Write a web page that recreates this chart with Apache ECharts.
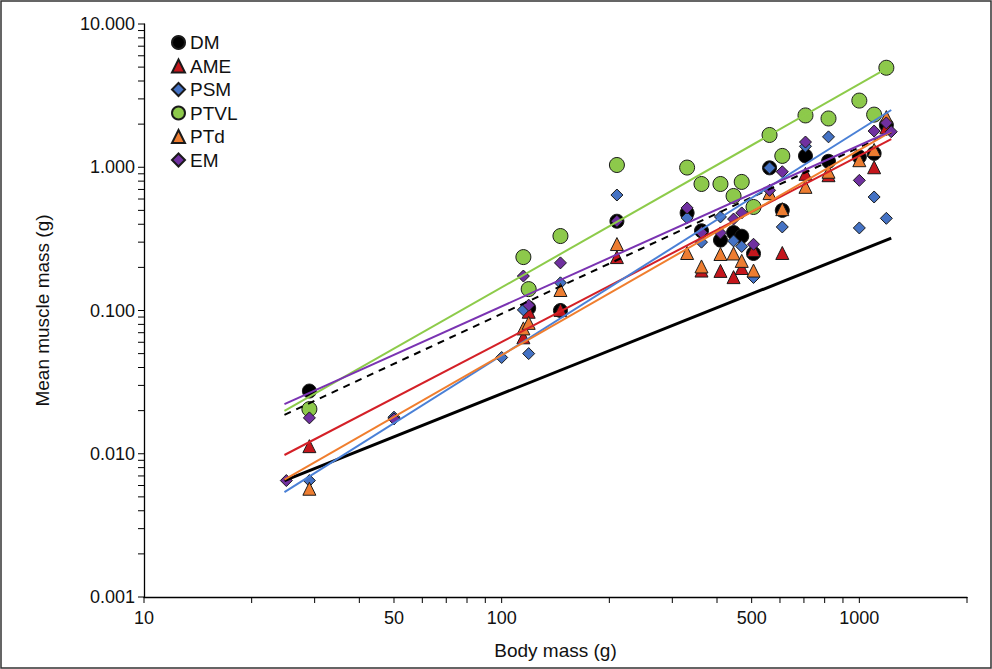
<!DOCTYPE html>
<html>
<head>
<meta charset="utf-8">
<script src="https://cdn.jsdelivr.net/npm/echarts@6/dist/echarts.min.js"></script>
<style>
html,body{margin:0;padding:0;background:#fff;}
#chart{width:992px;height:669px;}
</style>
</head>
<body>
<div id="chart"></div>
<script>
// Body mass of each species column (g)
const bodyMass = [25, 29, 50, 100, 115, 119, 146, 210, 330, 362, 409, 445, 469, 506, 561, 609, 707, 820, 1000, 1100, 1190, 1228];
// Mean muscle mass (g) per muscle, aligned with bodyMass (null = not plotted)
const dmMass   = [null, 0.0274, null, null, null, 0.104, 0.100, 0.42, 0.48, 0.36, 0.31, 0.35, 0.33, 0.25, 0.99, 0.50, 1.20, 1.10, 1.18, 1.25, 1.97, null];
const ameMass  = [null, 0.0113, null, null, 0.065, 0.098, 0.101, 0.236, null, 0.19, 0.189, 0.171, 0.198, 0.264, null, 0.252, 0.90, 0.88, null, 1.0, 1.9, null];
const psmMass  = [null, 0.0065, 0.018, 0.047, 0.101, 0.050, 0.156, 0.64, 0.443, 0.30, 0.45, 0.306, 0.28, 0.17, 0.99, 0.383, 1.40, 1.63, 0.377, 0.62, 0.44, null];
const ptvlMass = [null, 0.0205, null, null, 0.236, 0.141, 0.331, 1.037, 0.995, 0.764, 0.764, 0.63, 0.79, 0.528, 1.68, 1.20, 2.30, 2.19, 2.92, 2.33, 4.95, null];
const ptdMass  = [null, 0.0057, null, null, 0.075, 0.082, 0.139, 0.291, 0.252, 0.203, 0.248, 0.25, 0.222, 0.19, 0.66, 0.51, 0.73, 0.93, 1.12, 1.32, 2.24, null];
const emMass   = [0.0065, 0.0178, 0.0175, null, 0.174, 0.109, 0.215, 0.42, 0.52, 0.35, 0.348, 0.435, 0.48, 0.29, 0.69, 0.93, 1.50, null, 0.81, 1.79, 2.04, 1.77];

// Fitted lines: values at the start and end body mass
const fitX    = [24.7, 1228];
const fitDM   = [0.0187, 1.75];
const fitAME  = [0.0098, 1.57];
const fitPSM  = [0.0054, 2.51];
const fitPTVL = [0.0199, 5.1];
const fitPTd  = [0.0066, 1.77];
const fitEM   = [0.0222, 1.79];
const isometry = [0.0065, 0.32];

// Axis ticks
const xTickValues = [10,20,30,40,50,60,70,80,90,100,200,300,400,500,600,700,800,900,1000,2000];
const xTickLabels = [10, 50, 100, 500, 1000];
const yTickValues = [];
[0.001, 0.01, 0.1, 1].forEach(function (d) { for (let k = 1; k <= 9; k++) yTickValues.push(+(d * k).toPrecision(3)); });
yTickValues.push(10);

const FONT = '"Liberation Sans", Arial, sans-serif';

function pairs(vals) {
  const out = [];
  bodyMass.forEach(function (x, i) { if (vals[i] != null) out.push([x, vals[i]]); });
  return out;
}
function fitLine(ys) { return [[fitX[0], ys[0]], [fitX[1], ys[1]]]; }

const seriesDefs = [
  { name: 'DM',   data: dmMass,   symbol: 'circle',   size: 14, color: '#000000' },
  { name: 'AME',  data: ameMass,  symbol: 'triangle', size: 13, color: '#C4161C' },
  { name: 'PSM',  data: psmMass,  symbol: 'diamond',  size: 12, color: '#4472C4' },
  { name: 'PTVL', data: ptvlMass, symbol: 'circle',   size: 15, color: '#8DC94B' },
  { name: 'PTd',  data: ptdMass,  symbol: 'triangle', size: 13, color: '#ED7D31' },
  { name: 'EM',   data: emMass,   symbol: 'diamond',  size: 12, color: '#7030A0' }
];

const series = [];
seriesDefs.forEach(function (s) {
  series.push({
    name: s.name, type: 'scatter', data: pairs(s.data),
    symbol: s.symbol, symbolSize: s.size, z: 3,
    itemStyle: { color: s.color, borderColor: '#1a1a1a', borderWidth: 1, opacity: 1 },
    emphasis: { disabled: true }
  });
});

const lineDefs = [
  { data: fitLine(isometry), color: '#000000', width: 3, type: 'solid' },
  { data: fitLine(fitDM),    color: '#000000', width: 2, type: [7, 6] },
  { data: fitLine(fitAME),   color: '#D42027', width: 2, type: 'solid' },
  { data: fitLine(fitPSM),   color: '#4A80D6', width: 2, type: 'solid' },
  { data: fitLine(fitPTVL),  color: '#8DCB4A', width: 2, type: 'solid' },
  { data: fitLine(fitPTd),   color: '#F07E2E', width: 2, type: 'solid' },
  { data: fitLine(fitEM),    color: '#7A33B2', width: 2, type: 'solid' }
];
lineDefs.forEach(function (l) {
  series.push({
    type: 'line', data: l.data, symbol: 'none', silent: true, z: 4,
    lineStyle: { color: l.color, width: l.width, type: l.type },
    emphasis: { disabled: true }, animation: false
  });
});

// tick marks drawn via axis scales
series.push({
  type: 'custom', silent: true, z: 5, clip: false,
  data: xTickValues.map(function (v) { return [v, 0.001]; }),
  renderItem: function (params, api) {
    const p = api.coord([api.value(0), api.value(1)]);
    return { type: 'line', shape: { x1: p[0], y1: p[1], x2: p[0], y2: p[1] + 6 }, style: { stroke: '#000', lineWidth: 1 } };
  }
});
series.push({
  type: 'custom', silent: true, z: 5, clip: false,
  data: yTickValues.map(function (v) { return [10, v]; }),
  renderItem: function (params, api) {
    const p = api.coord([api.value(0), api.value(1)]);
    return { type: 'line', shape: { x1: p[0] - 6, y1: p[1], x2: p[0], y2: p[1] }, style: { stroke: '#000', lineWidth: 1 } };
  }
});
series.push({
  type: 'custom', silent: true, z: 5, clip: false,
  data: xTickLabels.map(function (v) { return [v, 0.001]; }),
  renderItem: function (params, api) {
    const v = api.value(0);
    const p = api.coord([v, api.value(1)]);
    return { type: 'text', x: p[0], y: p[1] + 12,
      style: { text: String(v), align: 'center', verticalAlign: 'top', textAlign: 'center', textVerticalAlign: 'top', font: '18px ' + FONT, fill: '#111' } };
  }
});

const option = {
  animation: false,
  backgroundColor: '#ffffff',
  grid: { left: 144, right: 25, top: 24, bottom: 72, containLabel: false, outerBoundsMode: 'none' },
  legend: {
    data: seriesDefs.map(function (s) { return s.name; }),
    orient: 'vertical', left: 171, top: 33, padding: 0,
    itemWidth: 13, itemHeight: 13, itemGap: 4.5,
    textStyle: { fontSize: 19, fontFamily: FONT, color: '#111', lineHeight: 14 },
    selectedMode: false
  },
  xAxis: {
    type: 'log', logBase: 10, min: 10, max: 2000,
    name: 'Body mass (g)', nameLocation: 'middle', nameGap: 44,
    nameTextStyle: { fontSize: 19, fontFamily: FONT, color: '#111' },
    axisLine: { lineStyle: { color: '#000', width: 1.3 } },
    axisTick: { show: false }, axisLabel: { show: false },
    splitLine: { show: false }, minorSplitLine: { show: false }
  },
  yAxis: {
    type: 'log', logBase: 10, min: 0.001, max: 10,
    name: 'Mean muscle mass (g)', nameLocation: 'middle', nameGap: 92,
    nameTextStyle: { fontSize: 19, fontFamily: FONT, color: '#111' },
    axisLine: { show: true, lineStyle: { color: '#000', width: 1.3 } },
    axisTick: { show: false },
    axisLabel: { margin: 9, fontSize: 18, fontFamily: FONT, color: '#111',
      formatter: function (v) { return Number(v).toFixed(3); } },
    splitLine: { show: false }
  },
  graphic: [{
    type: 'rect', shape: { x: 1, y: 1, width: 990, height: 667 },
    style: { fill: 'none', stroke: '#333', lineWidth: 1.5 }, silent: true, z: 0
  }],
  series: series
};

const chart = echarts.init(document.getElementById('chart'), null, { renderer: 'svg' });
chart.setOption(option);
</script>
</body>
</html>
